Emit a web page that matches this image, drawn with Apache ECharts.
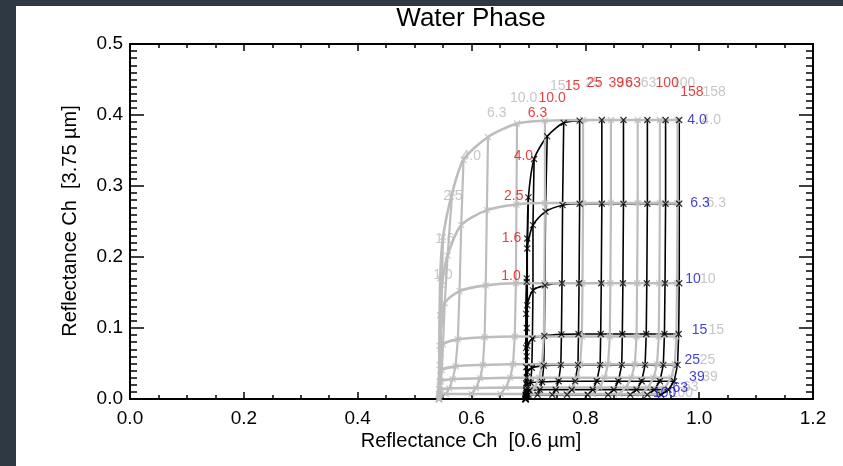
<!DOCTYPE html>
<html><head><meta charset="utf-8">
<script src="https://cdn.jsdelivr.net/npm/echarts@6/dist/echarts.min.js"></script>
<style>
html,body{margin:0;padding:0;background:#2e3943;width:843px;height:466px;overflow:hidden}
#panel{position:absolute;left:16px;top:6px;width:827px;height:460px;background:#fff}
</style></head><body><div id="panel"></div>
<script>
// Optical thickness (tau) grid and effective radius (re, µm) grid
const tauValues = [0, 1.0, 1.6, 2.5, 4.0, 6.3, 10, 15, 25, 39, 63, 100, 158];
const tauText   = ['', '1.0', '1.6', '2.5', '4.0', '6.3', '10.0', '15', '25', '39', '63', '100', '158'];
const reValues  = [4.0, 6.3, 10, 15, 25, 39, 63, 100];
const reText    = ['4.0', '6.3', '10', '15', '25', '39', '63', '100'];

// Black table: rows = re, columns = tau
const blackR06 = [
  [0.695, 0.697, 0.698, 0.700, 0.710, 0.733, 0.762, 0.790, 0.829, 0.867, 0.909, 0.941, 0.965],
  [0.695, 0.696, 0.697, 0.698, 0.708, 0.730, 0.760, 0.790, 0.829, 0.867, 0.909, 0.941, 0.965],
  [0.695, 0.696, 0.697, 0.698, 0.708, 0.729, 0.759, 0.789, 0.828, 0.866, 0.908, 0.940, 0.965],
  [0.695, 0.696, 0.697, 0.698, 0.707, 0.728, 0.758, 0.788, 0.827, 0.865, 0.907, 0.939, 0.964],
  [0.695, 0.696, 0.697, 0.698, 0.706, 0.727, 0.757, 0.787, 0.826, 0.864, 0.905, 0.937, 0.962],
  [0.695, 0.696, 0.697, 0.697, 0.704, 0.724, 0.753, 0.782, 0.820, 0.858, 0.899, 0.931, 0.956],
  [0.695, 0.695, 0.696, 0.697, 0.702, 0.720, 0.748, 0.776, 0.813, 0.850, 0.890, 0.921, 0.946],
  [0.695, 0.695, 0.696, 0.696, 0.700, 0.716, 0.742, 0.768, 0.804, 0.840, 0.879, 0.909, 0.933]
];
const blackR375 = [
  [0, 0.170, 0.226, 0.284, 0.338, 0.370, 0.389, 0.392, 0.393, 0.393, 0.393, 0.393, 0.393],
  [0, 0.120, 0.165, 0.212, 0.245, 0.264, 0.273, 0.275, 0.275, 0.275, 0.275, 0.275, 0.275],
  [0, 0.072, 0.100, 0.132, 0.153, 0.160, 0.163, 0.163, 0.163, 0.163, 0.163, 0.163, 0.163],
  [0, 0.045, 0.060, 0.075, 0.085, 0.089, 0.091, 0.0915, 0.0915, 0.0915, 0.0915, 0.0915, 0.0915],
  [0, 0.022, 0.030, 0.038, 0.044, 0.047, 0.048, 0.048, 0.048, 0.048, 0.048, 0.048, 0.048],
  [0, 0.012, 0.016, 0.020, 0.023, 0.024, 0.025, 0.025, 0.025, 0.025, 0.025, 0.025, 0.025],
  [0, 0.006, 0.008, 0.010, 0.012, 0.013, 0.013, 0.013, 0.013, 0.013, 0.013, 0.013, 0.013],
  [0, 0.003, 0.004, 0.005, 0.006, 0.006, 0.006, 0.006, 0.006, 0.006, 0.006, 0.006, 0.006]
];

// Grey table: rows = re, columns = tau
const greyR06 = [
  [0.543, 0.545, 0.550, 0.566, 0.586, 0.629, 0.680, 0.729, 0.796, 0.845, 0.892, 0.931, 0.962],
  [0.543, 0.545, 0.548, 0.558, 0.582, 0.627, 0.679, 0.729, 0.796, 0.845, 0.892, 0.931, 0.962],
  [0.543, 0.544, 0.547, 0.553, 0.579, 0.625, 0.678, 0.728, 0.795, 0.844, 0.891, 0.930, 0.961],
  [0.543, 0.544, 0.546, 0.550, 0.576, 0.623, 0.676, 0.727, 0.794, 0.843, 0.890, 0.929, 0.960],
  [0.543, 0.544, 0.545, 0.548, 0.572, 0.620, 0.673, 0.724, 0.791, 0.840, 0.887, 0.926, 0.957],
  [0.543, 0.543, 0.544, 0.546, 0.567, 0.615, 0.668, 0.719, 0.786, 0.834, 0.881, 0.920, 0.951],
  [0.543, 0.543, 0.544, 0.545, 0.561, 0.608, 0.660, 0.711, 0.777, 0.825, 0.871, 0.910, 0.940],
  [0.543, 0.543, 0.543, 0.544, 0.555, 0.600, 0.651, 0.701, 0.766, 0.813, 0.859, 0.897, 0.927]
];
const greyR375 = [
  [0, 0.170, 0.228, 0.290, 0.337, 0.369, 0.388, 0.392, 0.393, 0.393, 0.393, 0.393, 0.393],
  [0, 0.118, 0.160, 0.202, 0.245, 0.266, 0.274, 0.276, 0.276, 0.276, 0.276, 0.276, 0.276],
  [0, 0.075, 0.105, 0.135, 0.152, 0.160, 0.163, 0.163, 0.163, 0.163, 0.163, 0.163, 0.163],
  [0, 0.048, 0.064, 0.077, 0.084, 0.087, 0.088, 0.088, 0.088, 0.088, 0.088, 0.088, 0.088],
  [0, 0.024, 0.033, 0.041, 0.046, 0.048, 0.049, 0.049, 0.049, 0.049, 0.049, 0.049, 0.049],
  [0, 0.014, 0.020, 0.025, 0.028, 0.029, 0.030, 0.030, 0.030, 0.030, 0.030, 0.030, 0.030],
  [0, 0.007, 0.010, 0.013, 0.015, 0.0155, 0.016, 0.016, 0.016, 0.016, 0.016, 0.016, 0.016],
  [0, 0.003, 0.005, 0.006, 0.007, 0.007, 0.007, 0.007, 0.007, 0.007, 0.007, 0.007, 0.007]
];

// Label placement (pixel nudges from the anchoring grid point)
const redTauStyle = [null,
  ['right', -6, -2], ['right', -6, 0], ['right', -5, -1], ['right', -1, -3],
  ['right', 0, -23], ['right', 2, -25], ['left', -15, -35], ['left', -15, -37],
  ['left', -15, -37], ['left', -22, -37], ['left', -10, -37], ['left', 1, -28]];
const greyTauStyle = [null,
  ['left', -7, -3], ['left', -8, 2], ['left', -9, 3], ['left', -2, -4],
  ['left', -1, -24], ['left', -7, -25], ['left', 5, -35], ['left', 2, -37],
  ['left', 6, -37], ['left', 3, -37], ['left', 12, -37], ['left', 25, -28]];
const blueReStyle = [[8, 0], [11, -1], [6, -4], [13, -4], [7, -5], [15, -4], [4, -2], [-8, -2]];
const greyReStyle = [[24, 0], [29, 0], [23, -4], [32, -6], [25, -4], [31, -1], [18, 0], [12, -1]];

const FONT = '"Liberation Sans", Arial, Helvetica, sans-serif';
const GREY = '#bdbdbd';
const CROSS = 'path://M0,0L10,10M10,0L0,10';

function rowLines(xs, ys, color, width, z) {
  return reValues.map((re, i) => ({
    type: 'line', z, silent: true, showSymbol: false, smooth: 0.25,
    data: xs[i].map((x, j) => [x, ys[i][j]]),
    lineStyle: { color, width }
  }));
}
function colLines(xs, ys, color, width, z) {
  const out = [];
  for (let j = 1; j < tauValues.length; j++) {
    out.push({
      type: 'line', z, silent: true, showSymbol: false,
      data: reValues.map((re, i) => [xs[i][j], ys[i][j]]),
      lineStyle: { color, width }
    });
  }
  return out;
}
function markers(xs, ys, color, z) {
  const pts = [];
  reValues.forEach((re, i) => xs[i].forEach((x, j) => pts.push([x, ys[i][j]])));
  return {
    type: 'scatter', z, silent: true, symbol: CROSS, symbolSize: 6,
    itemStyle: { color: 'rgba(0,0,0,0)', borderColor: color, borderWidth: 1.2 },
    data: pts
  };
}
function tauLabels(xs, ys, color, style, z) {
  const data = [];
  for (let j = 1; j < tauValues.length; j++) {
    const s = style[j];
    data.push({
      value: [xs[0][j], ys[0][j]],
      label: { show: true, formatter: tauText[j], position: 'inside', align: s[0],
               verticalAlign: 'middle', offset: [s[1], s[2]], color, fontSize: 14, fontFamily: FONT }
    });
  }
  return { type: 'scatter', z, silent: true, symbolSize: 0, data };
}
function reLabels(xs, ys, color, style, z) {
  const last = tauValues.length - 1;
  const data = reValues.map((re, i) => ({
    value: [xs[i][last], ys[i][last]],
    label: { show: true, formatter: reText[i], position: 'inside', align: 'left',
             verticalAlign: 'middle', offset: style[i], color, fontSize: 14, fontFamily: FONT }
  }));
  return { type: 'scatter', z, silent: true, symbolSize: 0, data };
}

const axisCommon = {
  type: 'value', splitLine: { show: false },
  axisLine: { show: true, onZero: false, lineStyle: { color: '#000', width: 2 } }
};

const chart = echarts.init(document.getElementById('panel'), null, { renderer: 'canvas' });
chart.setOption({
  animation: false,
  backgroundColor: '#fff',
  grid: { left: 114, right: 30, top: 38, bottom: 67 },
  xAxis: [
    Object.assign({}, axisCommon, {
      position: 'bottom', min: 0, max: 1.2, interval: 0.2,
      axisTick: { inside: true, length: 7, lineStyle: { color: '#000', width: 1.5 } },
      minorTick: { show: true, splitNumber: 4, length: 4, lineStyle: { color: '#000', width: 1.5 } },
      axisLabel: { formatter: v => v.toFixed(1), fontSize: 19, color: '#000', fontFamily: FONT, margin: 10 }
    }),
    Object.assign({}, axisCommon, {
      position: 'top', min: 0, max: 1.2, interval: 0.2,
      axisTick: { inside: true, length: 7, lineStyle: { color: '#000', width: 1.5 } },
      minorTick: { show: true, splitNumber: 4, length: 4, lineStyle: { color: '#000', width: 1.5 } },
      axisLabel: { show: false }
    })
  ],
  yAxis: [
    Object.assign({}, axisCommon, {
      position: 'left', min: 0, max: 0.5, interval: 0.1,
      axisTick: { inside: true, length: 14, lineStyle: { color: '#000', width: 1.5 } },
      minorTick: { show: true, splitNumber: 10, length: 7, lineStyle: { color: '#000', width: 1.5 } },
      axisLabel: { formatter: v => v.toFixed(1), fontSize: 19, color: '#000', fontFamily: FONT, margin: 7 }
    }),
    Object.assign({}, axisCommon, {
      position: 'right', min: 0, max: 0.5, interval: 0.1,
      axisTick: { inside: true, length: 14, lineStyle: { color: '#000', width: 1.5 } },
      minorTick: { show: true, splitNumber: 10, length: 7, lineStyle: { color: '#000', width: 1.5 } },
      axisLabel: { show: false }
    })
  ],
  graphic: [
    { type: 'text', left: 455 - 70, top: 0, style: { text: 'Water Phase', x: 0, y: 0, font: '26px ' + FONT, fill: '#000' },
      position: [455, 13], left: null, top: null, style: { text: 'Water Phase', font: '26px ' + FONT, fill: '#000', textAlign: 'center', textVerticalAlign: 'middle' } },
    { type: 'text', position: [455, 435], style: { text: 'Reflectance Ch  [0.6 µm]', font: '20px ' + FONT, fill: '#000', textAlign: 'center', textVerticalAlign: 'middle' } },
    { type: 'text', position: [54, 215], rotation: Math.PI / 2, style: { text: 'Reflectance Ch  [3.75 µm]', font: '20px ' + FONT, fill: '#000', textAlign: 'center', textVerticalAlign: 'middle' } }
  ],
  series: [].concat(
    rowLines(blackR06, blackR375, '#000', 1.6, 2),
    colLines(blackR06, blackR375, '#000', 1.6, 2),
    rowLines(greyR06, greyR375, GREY, 2.6, 3),
    colLines(greyR06, greyR375, GREY, 2.2, 3),
    [markers(greyR06, greyR375, GREY, 4),
     markers(blackR06, blackR375, '#000', 5),
     tauLabels(greyR06, greyR375, '#b8b8b8', greyTauStyle, 6),
     reLabels(greyR06, greyR375, '#b8b8b8', greyReStyle, 6),
     tauLabels(blackR06, blackR375, '#dd1111', redTauStyle, 7),
     reLabels(blackR06, blackR375, '#1010cc', blueReStyle, 7)]
  )
});
</script></body></html>
